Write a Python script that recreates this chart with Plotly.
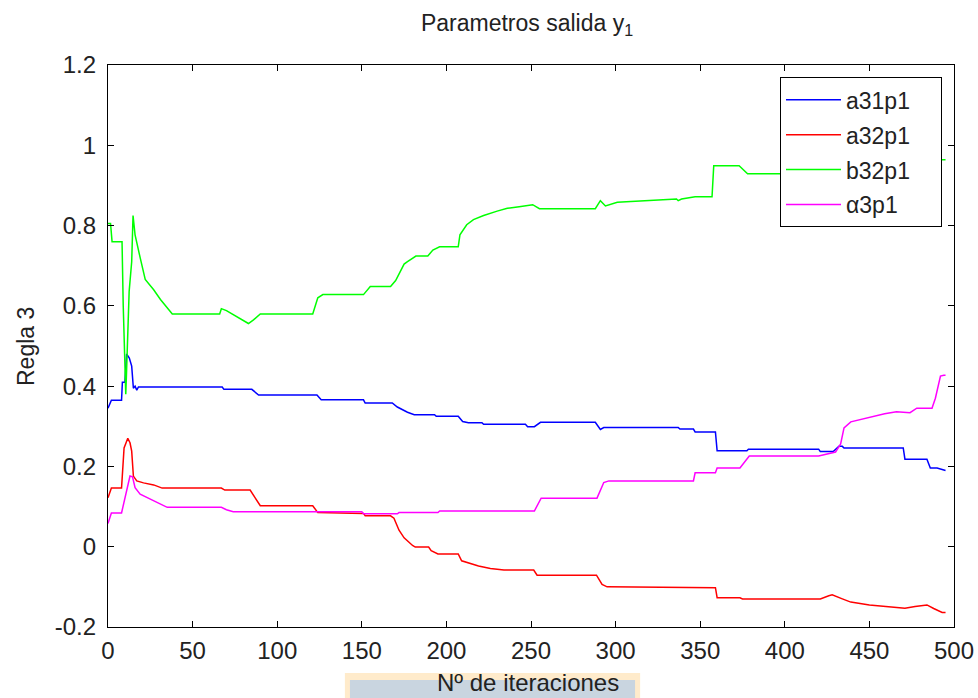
import plotly.graph_objects as go

# Iteration axis ticks and value axis ticks
x_ticks = [0, 50, 100, 150, 200, 250, 300, 350, 400, 450, 500]
y_ticks = [-0.2, 0, 0.2, 0.4, 0.6, 0.8, 1.0, 1.2]
y_tick_text = ["-0.2", "0", "0.2", "0.4", "0.6", "0.8", "1", "1.2"]

# a31p1
a31_x = [0, 2, 8, 8.5, 10, 11, 12.6, 14, 15, 16, 17, 18, 67.5, 68.5, 85, 89, 123.5, 126,
         151, 152, 168, 171, 177, 181, 193, 194, 207, 209.6, 213, 221, 222, 246.7, 248, 252,
         255.6, 288, 291, 293, 337, 338, 346, 347, 359, 360, 377.6, 378.5, 420, 421, 428.6,
         432, 434, 435, 470, 471, 484, 486, 490, 495]
a31_y = [0.345, 0.365, 0.365, 0.41, 0.41, 0.48, 0.47, 0.45, 0.395, 0.40, 0.39, 0.398, 0.398,
         0.392, 0.392, 0.378, 0.378, 0.366, 0.366, 0.358, 0.358, 0.348, 0.335, 0.329, 0.329,
         0.325, 0.325, 0.312, 0.309, 0.309, 0.305, 0.305, 0.299, 0.299, 0.31, 0.31, 0.292,
         0.297, 0.297, 0.293, 0.293, 0.286, 0.286, 0.239, 0.239, 0.243, 0.243, 0.237, 0.237,
         0.25, 0.25, 0.246, 0.246, 0.218, 0.218, 0.196, 0.196, 0.19]

# a32p1
a32_x = [0, 2, 8, 8.5, 9.5, 11.7, 13, 14, 15, 17, 21, 27, 32, 67, 69, 84, 87, 90, 121, 124,
         151, 152, 167, 169, 172, 175, 180, 181.6, 189.5, 191, 195, 207, 209, 215, 219, 226,
         234, 251.6, 253.6, 288.7, 292, 295, 359, 360, 373.5, 375, 421, 426, 428, 434, 439,
         450, 462, 471, 477, 484, 488, 493, 495]
a32_y = [0.122, 0.146, 0.146, 0.19, 0.246, 0.27, 0.259, 0.238, 0.176, 0.164, 0.159, 0.154,
         0.146, 0.146, 0.141, 0.141, 0.122, 0.102, 0.102, 0.085, 0.083, 0.077, 0.077, 0.071,
         0.041, 0.022, 0.003, -0.001, -0.001, -0.01, -0.018, -0.018, -0.035, -0.043, -0.048,
         -0.054, -0.058, -0.058, -0.071, -0.071, -0.094, -0.1, -0.102, -0.127, -0.127, -0.13,
         -0.13, -0.122, -0.12, -0.13, -0.138, -0.145, -0.15, -0.153, -0.149, -0.145, -0.154,
         -0.164, -0.164]

# b32p1
b32_x = [0, 1.5, 2.4, 8.3, 9, 10.5, 11, 12.5, 14, 14.8, 16, 17, 19, 22, 27, 31, 34, 38, 66,
         67, 70, 83, 86, 90, 121, 124, 127, 151, 155, 167, 170, 175, 177, 182, 189, 192, 196,
         207, 208, 212, 216, 222, 230, 236, 243, 251, 255, 288, 291, 294, 301, 336, 337, 339,
         347, 357, 358, 373, 378, 440, 445, 495]
b32_y = [0.805, 0.805, 0.76, 0.76, 0.60, 0.38, 0.44, 0.636, 0.71, 0.825, 0.777, 0.755, 0.72,
         0.666, 0.64, 0.616, 0.6, 0.58, 0.58, 0.593, 0.588, 0.556, 0.565, 0.58, 0.58, 0.62,
         0.628, 0.628, 0.648, 0.648, 0.663, 0.704, 0.71, 0.724, 0.724, 0.739, 0.747, 0.747,
         0.777, 0.802, 0.815, 0.825, 0.836, 0.843, 0.847, 0.852, 0.842, 0.842, 0.862, 0.849,
         0.858, 0.866, 0.862, 0.866, 0.872, 0.872, 0.949, 0.949, 0.929, 0.929, 0.964, 0.964]

# alpha3p1
al3_x = [0, 2, 8, 9, 10.6, 13, 14.5, 16, 19, 25, 30, 35, 67, 70, 74, 150, 151, 171, 172, 195,
         196, 252, 256, 289, 293, 296, 346, 347, 359, 360, 373.5, 379, 420, 425, 430, 433,
         435, 439, 449, 459, 466, 474, 478, 487, 489, 492, 494, 495]
al3_y = [0.058, 0.084, 0.084, 0.104, 0.131, 0.176, 0.174, 0.147, 0.131, 0.119, 0.11, 0.098,
         0.098, 0.092, 0.087, 0.087, 0.082, 0.082, 0.085, 0.085, 0.089, 0.089, 0.121, 0.121,
         0.16, 0.164, 0.164, 0.184, 0.184, 0.196, 0.196, 0.226, 0.226, 0.231, 0.236, 0.256,
         0.296, 0.311, 0.321, 0.331, 0.336, 0.334, 0.345, 0.345, 0.37, 0.425, 0.427, 0.427]

series = [
    ("a31p1", a31_x, a31_y, "#0000ff"),
    ("a32p1", a32_x, a32_y, "#ff0000"),
    ("b32p1", b32_x, b32_y, "#00ff00"),
    ("\u03b13p1", al3_x, al3_y, "#ff00ff"),
]

FONT = "Liberation Sans"
PAD = "\u00a0" * 4  # widens the legend box on the right

fig = go.Figure()
for i, (name, xs, ys, col) in enumerate(series):
    fig.add_trace(go.Scatter(
        x=xs, y=ys, mode="lines", name=name + PAD, legendgroup=f"g{i}",
        line=dict(color=col, width=1.5),
    ))

axis_common = dict(
    showline=True, linecolor="black", linewidth=1.3, mirror="ticks",
    ticks="inside", ticklen=6, tickwidth=1.3, tickcolor="black",
    showgrid=False, zeroline=False, automargin=False,
    tickfont=dict(family=FONT, size=24, color="#222222"),
)

fig.update_xaxes(range=[0, 500], tickvals=x_ticks, ticklabelstandoff=2, **axis_common)
fig.update_yaxes(range=[-0.2, 1.2], tickvals=y_ticks, ticktext=y_tick_text,
                 ticklabelstandoff=6, **axis_common)

fig.update_layout(
    width=978, height=698,
    margin=dict(l=108, r=24, t=65, b=71, autoexpand=False),
    paper_bgcolor="white", plot_bgcolor="white",
    showlegend=True,
    legend=dict(
        x=(780 - 108) / 846, y=0.978, xanchor="left", yanchor="top",
        bgcolor="white", bordercolor="black", borderwidth=1,
        font=dict(family=FONT, size=23, color="#222222"),
        tracegroupgap=2, itemwidth=55,
    ),
    title=dict(
        text="Parametros salida y<sub>1</sub>",
        x=527 / 978, xanchor="center", xref="container",
        y=1 - 23 / 698, yanchor="middle", yref="container",
        font=dict(family=FONT, size=23, color="#222222"),
    ),
    shapes=[
        dict(type="rect", xref="paper", yref="paper",
             x0=0.280, x1=0.629, y0=-0.1263, y1=-0.0819,
             fillcolor="#ffebcb", line=dict(width=0), layer="below"),
        dict(type="rect", xref="paper", yref="paper",
             x0=0.286, x1=0.623, y0=-0.1263, y1=-0.0943,
             fillcolor="#c9d5e0", line=dict(width=0), layer="below"),
    ],
    annotations=[
        dict(text="N\u00ba de iteraciones", xref="paper", yref="paper",
             x=(528 - 108) / 846, y=-0.099, xanchor="center", yanchor="middle",
             showarrow=False, font=dict(family=FONT, size=24, color="#222222")),
        dict(text="Regla 3", xref="paper", yref="paper",
             x=(26 - 108) / 846, y=(627 - 347) / 562, xanchor="center", yanchor="middle",
             showarrow=False, textangle=-90,
             font=dict(family=FONT, size=23, color="#222222")),
    ],
)

fig.write_html("out.html")
